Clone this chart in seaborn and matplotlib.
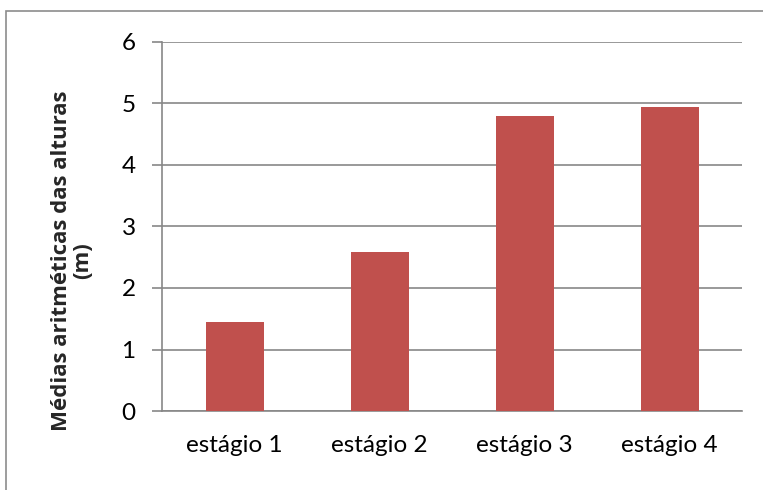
import matplotlib
matplotlib.use('Agg')
import matplotlib.pyplot as plt
from matplotlib.patches import Rectangle
import pandas as pd
import seaborn as sns

stages = ['estágio 1', 'estágio 2', 'estágio 3', 'estágio 4']
mean_heights = [1.44, 2.59, 4.8, 4.95]
y_ticks = [0, 1, 2, 3, 4, 5, 6]

df = pd.DataFrame({'stage': stages, 'height': mean_heights})

sns.set_theme(style='white')
plt.rcParams['font.family'] = ['Lato', 'DejaVu Sans']

grey = '#878787'
fig = plt.figure(figsize=(7.63, 4.90), dpi=100)
ax = fig.add_axes([162 / 763, 1 - 411 / 490, 580 / 763, 369 / 490])

sns.barplot(data=df, x='stage', y='height', color='#C0504D', width=0.4,
            saturation=1, edgecolor='none', ax=ax, zorder=3)

ax.set_ylim(0, 6)
ax.set_xlim(-0.5, len(stages) - 0.5)
ax.set_yticks(y_ticks)
ax.set_yticklabels([str(t) for t in y_ticks])
ax.yaxis.grid(True, color=grey, linewidth=1.2, zorder=0)
ax.set_axisbelow(True)

# category ticks sit between the bars, like in Excel
ax.set_xticks([i - 0.5 for i in range(len(stages) + 1)], minor=True)
ax.tick_params(axis='x', which='major', length=0, pad=17, labelsize=17.5, colors='black')
ax.tick_params(axis='x', which='minor', length=7, width=1.2, color=grey, direction='out')
ax.tick_params(axis='y', length=7, width=1.2, color=grey, pad=12, labelsize=17.5,
               colors='black', left=True)
ax.tick_params(axis='both', labelcolor='black')

for side in ['top', 'right']:
    ax.spines[side].set_visible(False)
for side in ['left', 'bottom']:
    ax.spines[side].set_color(grey)
    ax.spines[side].set_linewidth(1.2)

ax.set_xlabel('')
ax.set_ylabel('')
fig.text(72 / 763, 1 - 261 / 490, 'Médias aritméticas das alturas\n(m)',
         rotation=90, ha='center', va='center', fontsize=16, fontweight='bold',
         family=['Open Sans', 'DejaVu Sans'], linespacing=1.0)

# chart area border
fig.patches.append(Rectangle((6 / 763, -0.05), 1.0, 1 - 11 / 490 + 0.05,
                             transform=fig.transFigure, fill=False,
                             edgecolor='#8c8c8c', linewidth=1.2))

fig.savefig('out.png', dpi=100)
